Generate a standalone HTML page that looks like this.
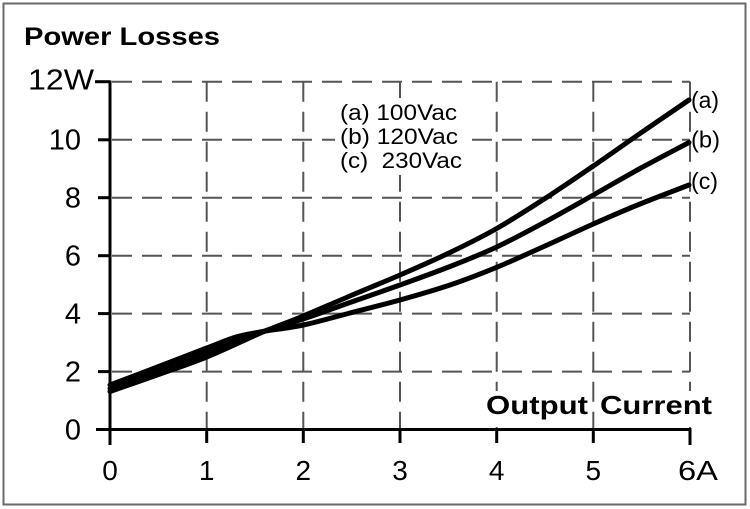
<!DOCTYPE html>
<html><head><meta charset="utf-8"><style>
html,body{margin:0;padding:0;background:#fff;}
svg{display:block;}
text{font-family:"Liberation Sans","DejaVu Sans",sans-serif;fill:#000;}
</style></head><body>
<svg width="750" height="509" viewBox="0 0 750 509" xmlns="http://www.w3.org/2000/svg">
<rect x="0" y="0" width="750" height="509" fill="#fff"/>
<rect x="3.5" y="3.5" width="742" height="501" fill="none" stroke="#6a6a6a" stroke-width="2"/>

<!-- grid -->
<g stroke="#555" stroke-width="2" stroke-dasharray="20 10" fill="none">
  <line x1="112" y1="81.7" x2="690" y2="81.7"/>
  <line x1="112" y1="139.8" x2="690" y2="139.8"/>
  <line x1="112" y1="197.7" x2="690" y2="197.7"/>
  <line x1="112" y1="255.7" x2="690" y2="255.7"/>
  <line x1="112" y1="313.6" x2="690" y2="313.6"/>
  <line x1="112" y1="371.6" x2="690" y2="371.6"/>
  <line x1="206.7" y1="81.7" x2="206.7" y2="428"/>
  <line x1="303.3" y1="81.7" x2="303.3" y2="428"/>
  <line x1="400" y1="81.7" x2="400" y2="428"/>
  <line x1="496.7" y1="81.7" x2="496.7" y2="428"/>
  <line x1="593.3" y1="81.7" x2="593.3" y2="428"/>
  <line x1="690" y1="81.7" x2="690" y2="428"/>
</g>

<!-- knockouts -->
<rect x="335" y="98" width="130" height="77" fill="#fff"/>
<rect x="483" y="391" width="107" height="36" fill="#fff"/>
<rect x="597" y="391" width="118" height="36" fill="#fff"/>

<!-- axes -->
<g stroke="#000" stroke-width="3" fill="none">
  <line x1="110" y1="80.5" x2="110" y2="445"/>
  <line x1="96" y1="429.5" x2="690" y2="429.5"/>
  <line x1="95" y1="81.7" x2="110" y2="81.7"/>
  <line x1="98" y1="139.8" x2="110" y2="139.8"/>
  <line x1="98" y1="197.7" x2="110" y2="197.7"/>
  <line x1="98" y1="255.7" x2="110" y2="255.7"/>
  <line x1="98" y1="313.6" x2="110" y2="313.6"/>
  <line x1="98" y1="371.6" x2="110" y2="371.6"/>
  <line x1="206.7" y1="429" x2="206.7" y2="443"/>
  <line x1="303.3" y1="429" x2="303.3" y2="443"/>
  <line x1="400" y1="429" x2="400" y2="443"/>
  <line x1="496.7" y1="429" x2="496.7" y2="443"/>
  <line x1="593.3" y1="429" x2="593.3" y2="443"/>
  <line x1="690" y1="428" x2="690" y2="445"/>
</g>

<!-- curves -->
<g stroke="#000" stroke-width="5" fill="none" stroke-linejoin="round" stroke-linecap="round">
  <path d="M110,391.5 C118.3,388.6 143.9,379.75 160,374 C176.1,368.25 189.5,364 206.7,357 C223.9,350 246.9,338.8 263,332 C279.1,325.2 288.8,322 303.3,316 C317.8,310 333.9,302.8 350,296 C366.1,289.2 383.3,282.25 400,275 C416.7,267.75 433.9,260.25 450,252.5 C466.1,244.75 480.9,237.5 496.7,228.5 C512.5,219.5 528.9,208.9 545,198.5 C561.1,188.1 577.5,176.8 593.3,166 C609.1,155.2 624.05,144.5 640,133.5 C656,122.5 680.8,105.6 689,100"/>
  <path d="M110,388.5 C118.3,385.5 143.9,376.4 160,370.5 C176.1,364.6 189.5,359.5 206.7,353 C223.9,346.5 246.9,337.3 263,331.6 C279.1,325.9 288.8,323.85 303.3,319 C317.8,314.15 333.9,308.2 350,302.5 C366.1,296.8 383.3,291 400,285 C416.7,279 433.9,272.8 450,266.5 C466.1,260.2 480.9,254.4 496.7,247 C512.5,239.6 528.9,230.7 545,222 C561.1,213.3 577.5,203.9 593.3,195 C609.1,186.1 624.05,177.25 640,168.5 C656,159.75 680.8,146.8 689,142.5"/>
  <path d="M110,385 C118.3,381.8 143.9,372.2 160,366 C176.1,359.8 194,352.8 206.7,348 C219.4,343.2 226.6,339.75 236,337 C245.4,334.25 251.8,333.5 263,331.5 C274.2,329.5 288.8,328.1 303.3,325 C317.8,321.9 333.9,317.2 350,313 C366.1,308.8 383.3,304.7 400,300 C416.7,295.3 433.9,290.45 450,285 C466.1,279.55 480.9,273.8 496.7,267.3 C512.5,260.8 528.9,253.2 545,246 C561.1,238.8 577.5,231 593.3,224 C609.1,217 624.05,210.5 640,204 C656,197.5 680.8,188.2 689,185"/>
</g>

<!-- titles -->
<text x="24" y="45" font-size="25" font-weight="bold" textLength="196" lengthAdjust="spacingAndGlyphs">Power Losses</text>
<text x="486" y="414" font-size="26" font-weight="bold" textLength="102" lengthAdjust="spacingAndGlyphs">Output</text>
<text x="600" y="414" font-size="26" font-weight="bold" textLength="112" lengthAdjust="spacingAndGlyphs">Current</text>

<!-- y labels -->
<text x="28" y="89.5" font-size="29" textLength="66" lengthAdjust="spacingAndGlyphs">12W</text>
<g font-size="29" text-anchor="end">
  <text x="81" y="149.5">10</text>
  <text x="81" y="207.5">8</text>
  <text x="81" y="265.5">6</text>
  <text x="81" y="323.5">4</text>
  <text x="81" y="381.5">2</text>
  <text x="81" y="439.5">0</text>
</g>

<!-- x labels -->
<g font-size="28" text-anchor="middle">
  <text x="110" y="480">0</text>
  <text x="206.7" y="480">1</text>
  <text x="303.3" y="480">2</text>
  <text x="400" y="480">3</text>
  <text x="496.7" y="480">4</text>
  <text x="593.3" y="480">5</text>
</g>
<text x="678" y="480" font-size="28" textLength="40" lengthAdjust="spacingAndGlyphs">6A</text>

<!-- legend -->
<g font-size="22">
  <text x="340" y="120" textLength="117" lengthAdjust="spacingAndGlyphs">(a) 100Vac</text>
  <text x="340" y="144" textLength="118" lengthAdjust="spacingAndGlyphs">(b) 120Vac</text>
  <text x="340" y="168" textLength="122" lengthAdjust="spacingAndGlyphs" xml:space="preserve">(c)  230Vac</text>
</g>

<!-- curve labels -->
<g font-size="23">
  <text x="691" y="108" textLength="28" lengthAdjust="spacingAndGlyphs">(a)</text>
  <text x="691" y="147.5" textLength="29" lengthAdjust="spacingAndGlyphs">(b)</text>
  <text x="691" y="189" textLength="27" lengthAdjust="spacingAndGlyphs">(c)</text>
</g>
</svg>
</body></html>
